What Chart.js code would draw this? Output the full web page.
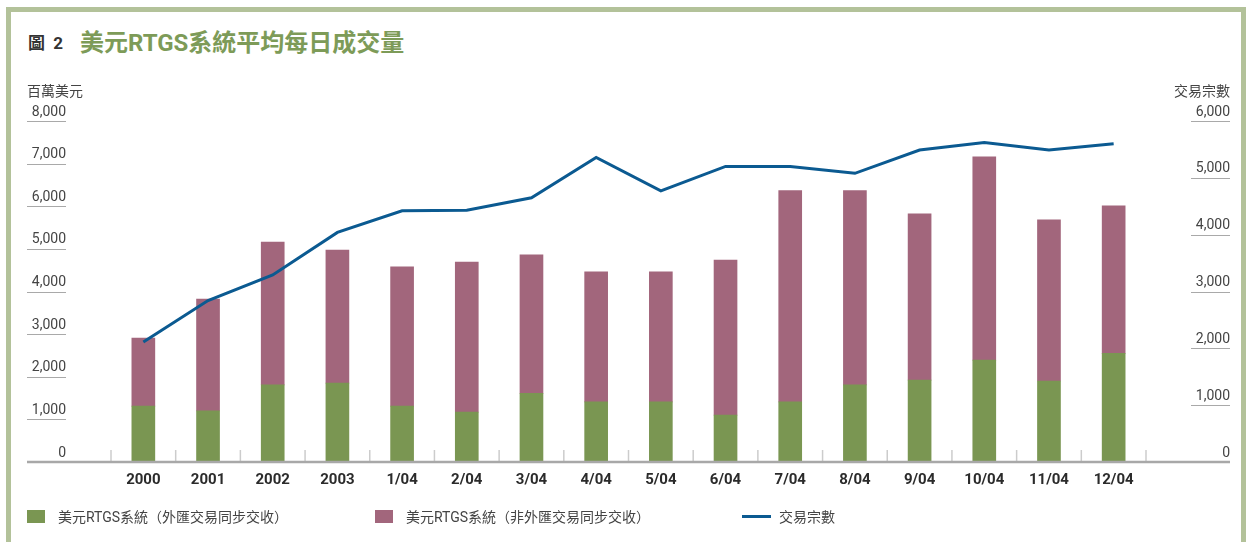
<!DOCTYPE html>
<html>
<head>
<meta charset="utf-8">
<script src="https://cdn.jsdelivr.net/npm/chart.js@4.4.0/dist/chart.umd.min.js"></script>
<style>
  html, body { margin: 0; padding: 0; background: #fff; }
  body { width: 1250px; height: 542px; position: relative; overflow: hidden;
         font-family: Roboto, "Noto Sans CJK TC", sans-serif; }
  #frame { position: absolute; left: 6px; top: 7px; width: 1240px; height: 600px;
           border: 5px solid #b3c29a; box-sizing: border-box; }
  #title { position: absolute; left: 28px; top: 23px; white-space: nowrap; }
  #title .num { font-size: 17px; font-weight: bold; color: #333; margin-right: 17px; vertical-align: 2px; word-spacing: 4px; }
  #title .txt { font-size: 24px; font-weight: bold; color: #7d9b58; }
  #chart { position: absolute; left: 0; top: 0; }
  #legend { position: absolute; top: 506px; left: 0; font-size: 14px; color: #444; }
  #legend .item { position: absolute; white-space: nowrap; display: flex; align-items: center; }
  #legend .sw { width: 18px; height: 13px; margin-right: 13px; }
  #legend .ln { width: 29px; height: 3px; margin-right: 8px; }
</style>
</head>
<body>
<div id="frame"></div>
<div id="title"><span class="num">圖 2</span><span class="txt">美元RTGS系統平均每日成交量</span></div>
<canvas id="chart" width="1250" height="542"></canvas>
<div id="legend"></div>
<script>
// data
const categories = ['2000', '2001', '2002', '2003', '1/04', '2/04', '3/04', '4/04',
                    '5/04', '6/04', '7/04', '8/04', '9/04', '10/04', '11/04', '12/04'];
// US$ million, FX PvP part
const fxPvp = [1310, 1200, 1810, 1850, 1310, 1170, 1610, 1410,
               1410, 1100, 1410, 1810, 1920, 2390, 1900, 2550];
// US$ million, non-FX PvP part
const nonFxPvp = [1600, 2620, 3350, 3120, 3270, 3520, 3250, 3050,
                  3050, 3640, 4960, 4560, 3900, 4770, 3780, 3460];
// number of transactions
const txCount = [2110, 2840, 3290, 4040, 4420, 4430, 4650, 5360,
                 4770, 5200, 5200, 5080, 5490, 5620, 5490, 5600];

const leftTicks = [0, 1000, 2000, 3000, 4000, 5000, 6000, 7000, 8000];
const rightTicks = [0, 1000, 2000, 3000, 4000, 5000, 6000];

const seriesNames = ['美元RTGS系統（外匯交易同步交收）', '美元RTGS系統（非外匯交易同步交收）', '交易宗數'];
const leftTitle = '百萬美元';
const rightTitle = '交易宗數';

const green = '#7a9652';
const purple = '#a2667c';
const blue = '#0b5a91';

Chart.defaults.font.family = 'Roboto, "Noto Sans CJK TC", sans-serif';
Chart.defaults.color = '#333';

const fmt = v => v.toLocaleString('en-US');

// axis decorations: titles, underlines under tick labels, base line, category ticks
const decor = {
    id: 'decor',
    afterDraw(chart) {
        const c = chart.ctx;
        const yl = chart.scales.yL, yr = chart.scales.yR, x = chart.scales.x;
        const base = yl.getPixelForValue(0);
        c.save();
        c.font = '14px Roboto, "Noto Sans CJK TC", sans-serif';
        c.fillStyle = '#444';
        c.textBaseline = 'middle';
        c.textAlign = 'left';
        c.fillText(leftTitle, 27, 92);
        c.textAlign = 'right';
        c.fillText(rightTitle, 1230, 92);

        c.strokeStyle = '#a9a9a9';
        c.lineWidth = 1;
        leftTicks.forEach(v => {
            if (v === 0) return;
            const y = Math.round(yl.getPixelForValue(v)) + 0.5;
            c.beginPath(); c.moveTo(27, y); c.lineTo(66, y); c.stroke();
        });
        rightTicks.forEach(v => {
            if (v === 0) return;
            const y = Math.round(yr.getPixelForValue(v)) + 0.5;
            c.beginPath(); c.moveTo(1191, y); c.lineTo(1230, y); c.stroke();
        });

        c.strokeStyle = '#cccccc';
        c.lineWidth = 1.5;
        const half = (x.getPixelForValue(1) - x.getPixelForValue(0)) / 2;
        for (let i = 0; i <= categories.length; i++) {
            const px = x.getPixelForValue(i) - half;
            c.beginPath(); c.moveTo(px, base - 12); c.lineTo(px, base); c.stroke();
        }

        c.strokeStyle = '#a8a8a8';
        c.lineWidth = 2.5;
        c.beginPath(); c.moveTo(27, base); c.lineTo(1230, base); c.stroke();
        c.restore();
    }
};

new Chart(document.getElementById('chart'), {
    data: {
        labels: categories,
        datasets: [
            {type: 'line', label: seriesNames[2], data: txCount, yAxisID: 'yR',
             borderColor: blue, borderWidth: 3, pointRadius: 0, tension: 0, order: 0},
            {type: 'bar', label: seriesNames[0], data: fxPvp, yAxisID: 'yL',
             backgroundColor: green, barThickness: 23, stack: 's', order: 1},
            {type: 'bar', label: seriesNames[1], data: nonFxPvp, yAxisID: 'yL',
             backgroundColor: purple, barThickness: 23, stack: 's', order: 1}
        ]
    },
    options: {
        responsive: false,
        animation: false,
        devicePixelRatio: 1,
        layout: {padding: {top: 121, right: 20, left: 0, bottom: 0}},
        plugins: {legend: {display: false}, tooltip: {enabled: false}},
        scales: {
            x: {
                stacked: true,
                grid: {display: false},
                border: {display: false},
                ticks: {font: {size: 15, weight: 'bold'}, color: '#2b2b2b', padding: 1, maxRotation: 0, autoSkip: false},
                afterFit: s => { s.height = 80; }
            },
            yL: {
                position: 'left', stacked: true, min: 0, max: 8000,
                grid: {display: false, drawTicks: false},
                border: {display: false},
                ticks: {stepSize: 1000, padding: 45, labelOffset: -9, font: {size: 14}, color: '#444',
                        callback: v => fmt(v)},
                afterFit: s => { s.width = 111; }
            },
            yR: {
                position: 'right', min: 0, max: 6000,
                grid: {display: false, drawTicks: false},
                border: {display: false},
                ticks: {stepSize: 1000, crossAlign: 'far', labelOffset: -9, font: {size: 14}, color: '#444',
                        callback: v => fmt(v)},
                afterFit: s => { s.width = 84; }
            }
        }
    },
    plugins: [decor]
});

// legend
const legend = document.getElementById('legend');
const legendPos = [27, 375, 742];
const legendMarks = [['sw', green], ['sw', purple], ['ln', blue]];
seriesNames.forEach((name, i) => {
    const it = document.createElement('div');
    it.className = 'item';
    it.style.left = legendPos[i] + 'px';
    const m = document.createElement('span');
    m.className = legendMarks[i][0];
    m.style.background = legendMarks[i][1];
    it.appendChild(m);
    const t = document.createElement('span');
    t.textContent = name;
    it.appendChild(t);
    legend.appendChild(it);
});
</script>
</body>
</html>
